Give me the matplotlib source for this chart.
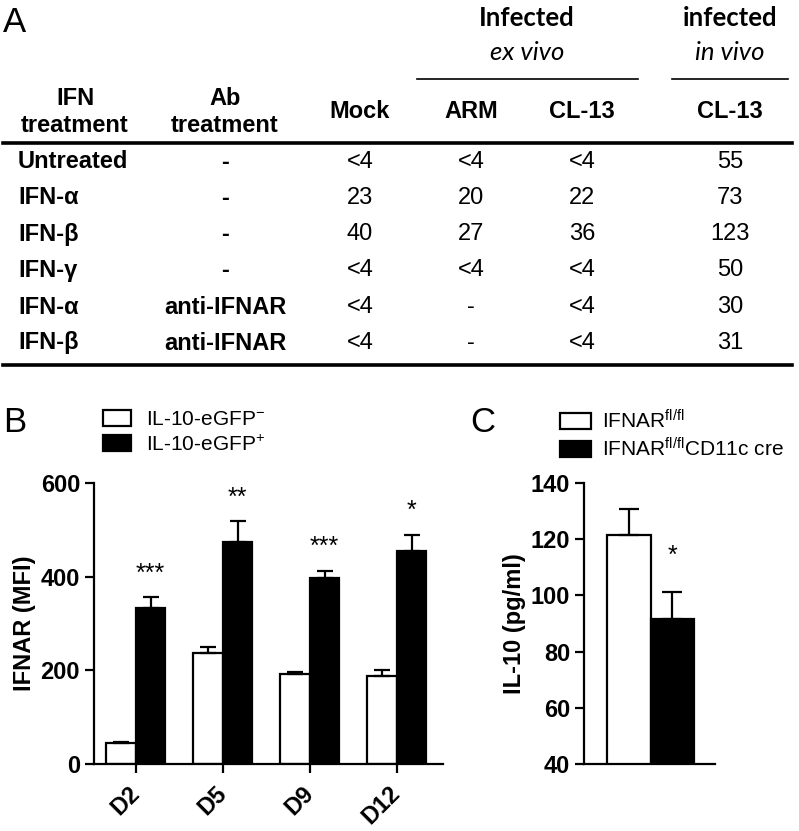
import matplotlib
matplotlib.use('Agg')
import matplotlib.pyplot as plt
import numpy as np

# Table (panel A)
ifn_treatment = ['Untreated', 'IFN-α', 'IFN-β', 'IFN-γ', 'IFN-α', 'IFN-β']
ab_treatment = ['-', '-', '-', '-', 'anti-IFNAR', 'anti-IFNAR']
mock = ['<4', '23', '40', '<4', '<4', '<4']
arm_ex_vivo = ['<4', '20', '27', '<4', '-', '-']
cl13_ex_vivo = ['<4', '22', '36', '<4', '<4', '<4']
cl13_in_vivo = ['55', '73', '123', '50', '30', '31']

# Panel B
days = ['D2', 'D5', 'D9', 'D12']
gfp_neg = [45, 236, 192, 188]
gfp_neg_err = [2, 13, 5, 13]
gfp_pos = [333, 473, 398, 455]
gfp_pos_err = [24, 46, 15, 35]
stars_b = ['***', '**', '***', '*']

# Panel C
c_groups = ['IFNAR$^{fl/fl}$', 'IFNAR$^{fl/fl}$CD11c cre']
il10 = [121.5, 91.6]
il10_err = [9.2, 9.6]
stars_c = ['', '*']

plt.rcParams['font.family'] = ['Liberation Sans', 'DejaVu Sans']
plt.rcParams['mathtext.fontset'] = 'custom'
plt.rcParams['mathtext.rm'] = 'Liberation Sans'
plt.rcParams['mathtext.default'] = 'regular'

W, H = 799, 831
fig = plt.figure(figsize=(W / 100, H / 100), dpi=100)

# ---- table drawn in pixel coordinates
ta = fig.add_axes([0, 0, 1, 1])
ta.set_xlim(0, W)
ta.set_ylim(H, 0)
ta.axis('off')

narrow = ['Liberation Sans Narrow', 'Liberation Sans', 'DejaVu Sans']
head = ['Lato', 'DejaVu Sans']
tsize = 17

ta.text(3, 22, 'A', fontsize=25, va='center', ha='left')
ta.text(527, 18, 'Infected', family=head, fontsize=18.5, fontweight='bold', ha='center', va='center')
ta.text(527, 52, 'ex vivo', family=head, fontsize=18.5, style='italic', ha='center', va='center')
ta.text(730, 18, 'infected', family=head, fontsize=18.5, fontweight='bold', ha='center', va='center')
ta.text(730, 52, 'in vivo', family=head, fontsize=18.5, style='italic', ha='center', va='center')
ta.plot([417, 638], [79, 79], color='black', lw=1.2)
ta.plot([672, 788], [79, 79], color='black', lw=1.2)

for x, lab in [(75, 'IFN\ntreatment'), (225, 'Ab\ntreatment')]:
    ta.text(x, 112, lab, family=narrow, fontsize=tsize, fontweight='bold', ha='center', va='center',
            linespacing=1.2)
for x, lab in [(360, 'Mock'), (471, 'ARM'), (582, 'CL-13'), (730, 'CL-13')]:
    ta.text(x, 112, lab, family=narrow, fontsize=tsize, fontweight='bold', ha='center', va='center')

ta.plot([3, 792], [143, 143], color='black', lw=2.6)
ta.plot([3, 792], [365, 365], color='black', lw=2.6)

row_y = [162, 198, 234, 270, 307, 343]
for i, y in enumerate(row_y):
    ta.text(18, y, ifn_treatment[i], family=narrow, fontsize=tsize, fontweight='bold', ha='left', va='center')
    ta.text(225, y, ab_treatment[i], family=narrow, fontsize=tsize, fontweight='bold', ha='center', va='center')
    for x, col in [(360, mock), (471, arm_ex_vivo), (582, cl13_ex_vivo), (730, cl13_in_vivo)]:
        ta.text(x, y, col[i], family=narrow, fontsize=tsize, ha='center', va='center')

ta.text(3, 423, 'B', fontsize=25, va='center', ha='left')
ta.text(470, 423, 'C', fontsize=25, va='center', ha='left')


def style_axes(ax):
    for s in ['top', 'right']:
        ax.spines[s].set_visible(False)
    for s in ['left', 'bottom']:
        ax.spines[s].set_linewidth(1.6)
    ax.tick_params(width=1.6, length=6.5, labelsize=17)
    for t in ax.get_yticklabels():
        t.set_fontweight('bold')


# ---- panel B
axb = fig.add_axes([94 / W, 1 - 764 / H, (443 - 94) / W, (764 - 483) / H])
x = np.arange(len(days))
bw = 0.34
axb.bar(x - bw / 2, gfp_neg, bw, color='white', edgecolor='black', lw=1.6,
        yerr=[np.zeros(4), gfp_neg_err], capsize=6,
        error_kw=dict(elinewidth=1.6, capthick=1.6), label='IL-10-eGFP$^{-}$')
axb.bar(x + bw / 2, gfp_pos, bw, color='black', edgecolor='black', lw=1.6,
        yerr=[np.zeros(4), gfp_pos_err], capsize=6,
        error_kw=dict(elinewidth=1.6, capthick=1.6), label='IL-10-eGFP$^{+}$')
for i in range(len(days)):
    axb.text(x[i] + bw / 2, gfp_pos[i] + gfp_pos_err[i] + 50, stars_b[i], ha='center', va='center', fontsize=18)
axb.set_xlim(-0.48, 3.53)
axb.set_ylim(0, 600)
axb.set_yticks([0, 200, 400, 600])
axb.set_xticks(x)
axb.set_xticklabels(days, rotation=45, ha='right', va='center', rotation_mode='anchor', fontweight='bold')
axb.set_ylabel('IFNAR (MFI)', fontsize=17, fontweight='bold', labelpad=3)
style_axes(axb)
axb.tick_params(axis='x', pad=12)
axb.legend(loc='upper left', bbox_to_anchor=(103 / W, 1 - 410 / H), bbox_transform=fig.transFigure,
           frameon=False, fontsize=15, handlelength=1.35, handleheight=0.8, handletextpad=0.7,
           labelspacing=0.25, borderpad=0, borderaxespad=0)

# ---- panel C
axc = fig.add_axes([584 / W, 1 - 764 / H, (715 - 584) / W, (764 - 483) / H])
xc = np.arange(len(c_groups))
bars = axc.bar(xc, il10, 1.0, bottom=0, color=['white', 'black'], edgecolor='black', lw=1.6,
               yerr=[np.zeros(2), il10_err], capsize=7,
               error_kw=dict(elinewidth=1.6, capthick=1.6))
for i in range(len(c_groups)):
    axc.text(xc[i], il10[i] + il10_err[i] + 13, stars_c[i], ha='center', va='center', fontsize=18)
axc.set_xlim(-1.03, 1.98)
axc.set_ylim(40, 140)
axc.set_yticks([40, 60, 80, 100, 120, 140])
axc.set_xticks([])
axc.set_ylabel('IL-10 (pg/ml)', fontsize=17, fontweight='bold', labelpad=3)
style_axes(axc)
axc.legend(bars, c_groups, loc='upper left', bbox_to_anchor=(560 / W, 1 - 409 / H),
           bbox_transform=fig.transFigure, frameon=False, fontsize=15, handlelength=1.5,
           handleheight=0.8, handletextpad=0.5, labelspacing=0.25, borderpad=0, borderaxespad=0)

fig.savefig('out.png', dpi=100)
